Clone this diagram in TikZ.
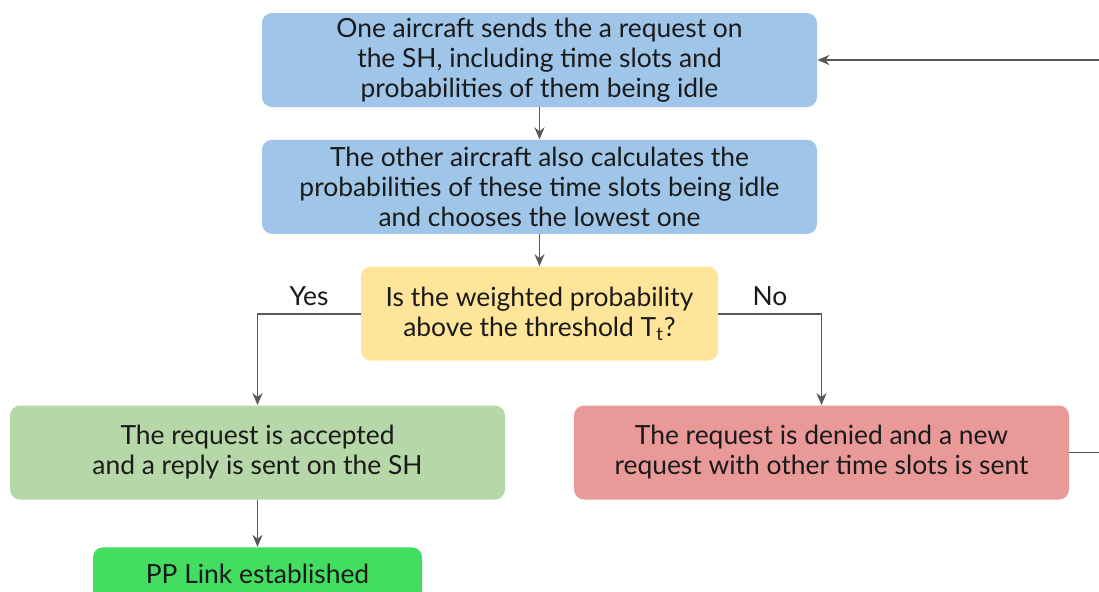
\documentclass[tikz,border=0pt]{standalone}
\usepackage{fontspec}
\setmainfont{Lato}
\usepackage{xcolor}
\usetikzlibrary{positioning, arrows.meta}
\definecolor{askblue}{HTML}{9FC5E8}
\definecolor{checkyellow}{HTML}{FFE599}
\definecolor{acceptgreen}{HTML}{B6D7A8}
\definecolor{denyred}{HTML}{EA9999}
\definecolor{linkgreen}{HTML}{43DD62}
\definecolor{linegray}{HTML}{595959}
\definecolor{textmain}{HTML}{1A1A1A}

\begin{document}
\begin{tikzpicture}[
        x=0.5pt, y=-0.5pt,
        node distance=16pt,
        box/.style={rectangle, draw=none, text=textmain, rounded corners=5pt,
                    minimum width=277.5pt, minimum height=47pt, align=center,
                    font=\fontsize{13.2}{15}\selectfont, inner sep=2pt},
        branch/.style={above, text=textmain, font=\fontsize{13.2}{15}\selectfont},
        arrow/.style={-{Stealth[length=6pt, width=5pt]}, line width=0.9pt, linegray}
      ]
        \useasboundingbox (0,0) rectangle (1099,591);
        \clip (0,0) rectangle (1099,591);

        \node[box, fill=askblue] (request) at (539.5,60)
          {One aircraft sends the a request on\\the SH, including time slots and\\probabilities of them being idle};
        \node[box, fill=askblue, below=of request] (calc)
          {The other aircraft also calculates the\\probabilities of these time slots being idle\\and chooses the lowest one};
        \node[box, fill=checkyellow, minimum width=178.5pt, below=of calc] (decide)
          {Is the weighted probability\\above the threshold T\textsubscript{t}?};
        \node[box, fill=acceptgreen, minimum width=247.5pt] (accept) at (257.5,452.5)
          {The request is accepted\\and a reply is sent on the SH};
        \node[box, fill=denyred, minimum width=247.5pt] (deny) at (821.5,452.5)
          {The request is denied and a new\\request with other time slots is sent};
        \node[box, fill=linkgreen, minimum width=164.5pt, minimum height=27pt,
              below=23.5pt of accept] (link) {PP Link established};

        \draw[arrow] (request) -- (calc);
        \draw[arrow] (calc) -- (decide);
        \draw[arrow] (decide.west) -| node[pos=0.25, branch] {Yes} (accept.north);
        \draw[arrow] (decide.east) -| node[pos=0.25, branch] {No} (deny.north);
        \draw[arrow] (accept) -- (link);
        \draw[arrow] (deny.east) -- ++(60,0) |- (request.east);
      \end{tikzpicture}
\end{document}
